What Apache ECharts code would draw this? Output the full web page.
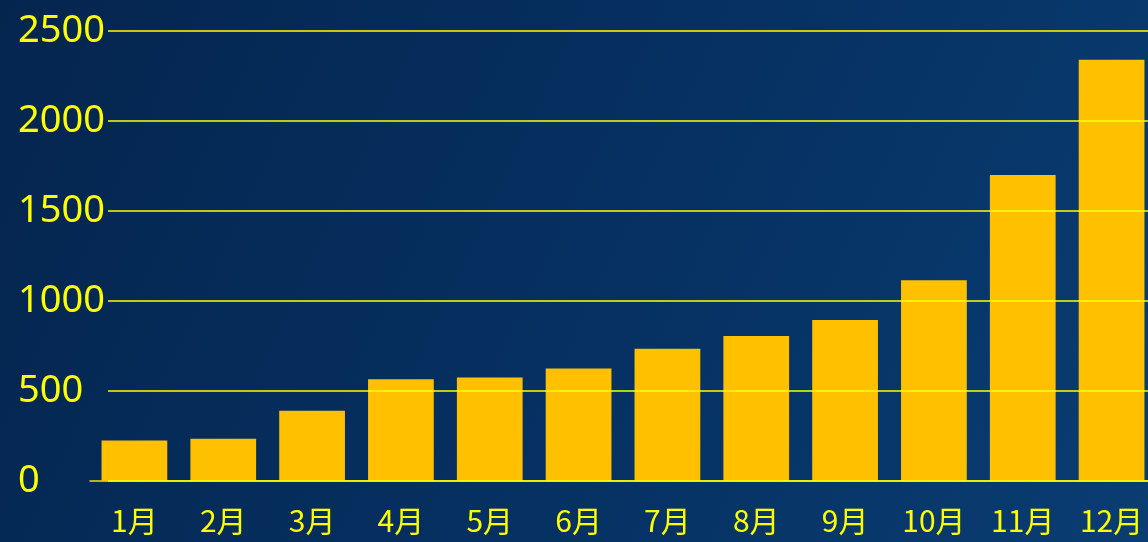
<!DOCTYPE html>
<html>
<head>
<meta charset="utf-8">
<script src="https://cdn.jsdelivr.net/npm/echarts@6/dist/echarts.min.js"></script>
<style>
html,body{margin:0;padding:0;width:1148px;height:542px;overflow:hidden;background:#05284f;}
#chart{width:1156px;height:542px;}
</style>
</head>
<body>
<div id="chart"></div>
<script>
const categories = ['1月','2月','3月','4月','5月','6月','7月','8月','9月','10月','11月','12月'];
const values = [225, 235, 390, 565, 575, 625, 735, 805, 895, 1115, 1700, 2340];
const yTicks = [0, 500, 1000, 1500, 2000, 2500];

const yMin = yTicks[0], yMax = yTicks[yTicks.length - 1];
const chart = echarts.init(document.getElementById('chart'));
chart.setOption({
  backgroundColor: {
    type: 'linear', x: 0, y: 0, x2: 1, y2: 1,
    colorStops: [
      {offset: 0, color: '#04254e'},
      {offset: 0.6, color: '#063264'},
      {offset: 1, color: '#0a3d72'}
    ]
  },
  animation: false,
  grid: [
    {left: 90, right: 0, top: 31, bottom: 61},
    {left: 108, right: 0, top: 31, bottom: 61}
  ],
  xAxis: [{
    type: 'category',
    gridIndex: 0,
    data: categories,
    axisLine: {show: true, lineStyle: {color: '#e8e800', width: 1.5}},
    axisTick: {show: false},
    axisLabel: {
      color: '#ffff00',
      fontSize: 30,
      fontFamily: 'Noto Sans CJK SC',
      margin: 25
    }
  }, {
    type: 'value',
    gridIndex: 1,
    show: false
  }],
  yAxis: [{
    type: 'value',
    gridIndex: 0,
    min: yMin, max: yMax, interval: 500,
    show: false,
    splitLine: {show: false}
  }, {
    type: 'value',
    gridIndex: 1,
    min: yMin, max: yMax, interval: 500,
    z: 5,
    axisLine: {show: false},
    axisTick: {show: false},
    splitLine: {show: true, lineStyle: {color: '#ffff00', width: 1.5}},
    axisLabel: {
      color: '#ffff00',
      fontSize: 38,
      fontFamily: 'Noto Sans',
      align: 'left',
      margin: 90,
      formatter: v => String(v)
    }
  }],
  series: [{
    type: 'bar',
    xAxisIndex: 0,
    yAxisIndex: 0,
    data: values,
    barCategoryGap: '26%',
    itemStyle: {color: '#ffc000'},
    z: 2
  }]
});
</script>
</body>
</html>
